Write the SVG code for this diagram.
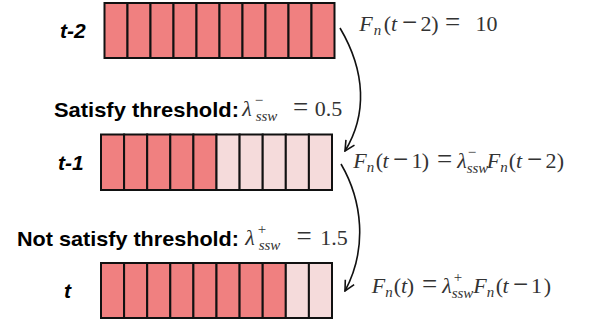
<svg xmlns="http://www.w3.org/2000/svg" width="596" height="326" viewBox="0 0 596 326">
<style>
.cell{stroke:#111;stroke-width:2}
.d{fill:#F08080}
.l{fill:#F5DBDB}
.lab{font-family:"Liberation Sans",Arial,sans-serif;font-weight:bold;font-style:italic;font-size:21px;fill:#000}
.b{font-family:"Liberation Sans",Arial,sans-serif;font-weight:bold;font-size:20.5px;fill:#000}
.m{font-family:"Liberation Serif","Times New Roman",serif;font-size:22px;fill:#333}
.i{font-style:italic}
.s{font-size:15px}
.op{font-size:27px}
.conn{fill:none;stroke:#111;stroke-width:1.6}
</style>
<defs>
<marker id="ah" viewBox="0 0 12 12" refX="11" refY="6" markerWidth="12" markerHeight="12" markerUnits="userSpaceOnUse" orient="auto">
<path d="M1 1 L11 6 L1 11" fill="none" stroke="#111" stroke-width="1.6"/>
</marker>
</defs>

<g id="row-t2">
<text class="lab" x="60" y="38">t-2</text>
<g class="cell d">
<rect x="104.5" y="3" width="23" height="55"/><rect x="127.5" y="3" width="23" height="55"/><rect x="150.5" y="3" width="23" height="55"/><rect x="173.5" y="3" width="23" height="55"/><rect x="196.5" y="3" width="23" height="55"/><rect x="219.5" y="3" width="23" height="55"/><rect x="242.5" y="3" width="23" height="55"/><rect x="265.5" y="3" width="23" height="55"/><rect x="288.5" y="3" width="23" height="55"/><rect x="311.5" y="3" width="23" height="55"/>
</g>
<text class="m" y="31" text-anchor="middle"><tspan x="366" class="i">F</tspan><tspan x="377.5" y="35" class="i s">n</tspan><tspan x="387.5" y="31">(</tspan><tspan x="394" class="i">t</tspan><tspan x="409.5" class="op">−</tspan><tspan x="426">2</tspan><tspan x="435">)</tspan><tspan x="452.5" class="op">=</tspan><tspan x="486.5">10</tspan></text>
</g>

<g id="step-satisfy">
<text class="b" x="54" y="117" textLength="185" lengthAdjust="spacingAndGlyphs">Satisfy threshold:</text>
<text class="m" y="116" text-anchor="middle"><tspan x="247" class="i">λ</tspan><tspan x="259" y="105" class="s">−</tspan><tspan x="266.5" y="121" class="i s">ssw</tspan><tspan x="300.5" y="116" class="op">=</tspan><tspan x="328.5">0.5</tspan></text>
</g>

<g id="row-t1">
<text class="lab" x="58" y="170">t-1</text>
<g class="cell">
<rect class="d" x="101" y="134.5" width="23.1" height="55.5"/><rect class="d" x="124.1" y="134.5" width="23.1" height="55.5"/><rect class="d" x="147.2" y="134.5" width="23.1" height="55.5"/><rect class="d" x="170.3" y="134.5" width="23.1" height="55.5"/><rect class="d" x="193.4" y="134.5" width="23.1" height="55.5"/><rect class="l" x="216.5" y="134.5" width="23.1" height="55.5"/><rect class="l" x="239.6" y="134.5" width="23.1" height="55.5"/><rect class="l" x="262.7" y="134.5" width="23.1" height="55.5"/><rect class="l" x="285.8" y="134.5" width="23.1" height="55.5"/><rect class="l" x="308.9" y="134.5" width="23.1" height="55.5"/>
</g>
<text class="m" y="168" text-anchor="middle"><tspan x="360" class="i">F</tspan><tspan x="370.5" y="172" class="i s">n</tspan><tspan x="379.5" y="168">(</tspan><tspan x="385.5" class="i">t</tspan><tspan x="400.5" class="op">−</tspan><tspan x="417">1</tspan><tspan x="425.5">)</tspan><tspan x="444.5" class="op">=</tspan><tspan x="462" class="i">λ</tspan><tspan x="472" y="157" class="s">−</tspan><tspan x="477.5" y="173" class="i s">ssw</tspan><tspan x="493.5" y="168" class="i">F</tspan><tspan x="504" y="172" class="i s">n</tspan><tspan x="512.5" y="168">(</tspan><tspan x="519" class="i">t</tspan><tspan x="534.5" class="op">−</tspan><tspan x="551">2</tspan><tspan x="560.5">)</tspan></text>
</g>

<g id="step-not-satisfy">
<text class="b" x="17" y="246" textLength="222" lengthAdjust="spacingAndGlyphs">Not satisfy threshold:</text>
<text class="m" y="245" text-anchor="middle"><tspan x="250" class="i">λ</tspan><tspan x="262" y="234" class="s">+</tspan><tspan x="269.5" y="250" class="i s">ssw</tspan><tspan x="304" y="245" class="op">=</tspan><tspan x="334">1.5</tspan></text>
</g>

<g id="row-t">
<text class="lab" x="64" y="298">t</text>
<g class="cell">
<rect class="d" x="101" y="263" width="23.1" height="55"/><rect class="d" x="124.1" y="263" width="23.1" height="55"/><rect class="d" x="147.2" y="263" width="23.1" height="55"/><rect class="d" x="170.3" y="263" width="23.1" height="55"/><rect class="d" x="193.4" y="263" width="23.1" height="55"/><rect class="d" x="216.5" y="263" width="23.1" height="55"/><rect class="d" x="239.6" y="263" width="23.1" height="55"/><rect class="d" x="262.7" y="263" width="23.1" height="55"/><rect class="l" x="285.8" y="263" width="23.1" height="55"/><rect class="l" x="308.9" y="263" width="23.1" height="55"/>
</g>
<text class="m" y="293" text-anchor="middle"><tspan x="378.5" class="i">F</tspan><tspan x="389" y="297" class="i s">n</tspan><tspan x="397.5" y="293">(</tspan><tspan x="404" class="i">t</tspan><tspan x="410.5">)</tspan><tspan x="429.5" class="op">=</tspan><tspan x="447" class="i">λ</tspan><tspan x="458" y="282" class="s">+</tspan><tspan x="462.5" y="298" class="i s">ssw</tspan><tspan x="480" y="293" class="i">F</tspan><tspan x="490.5" y="297" class="i s">n</tspan><tspan x="499.5" y="293">(</tspan><tspan x="505.5" class="i">t</tspan><tspan x="520.5" class="op">−</tspan><tspan x="536.5">1</tspan><tspan x="547.5">)</tspan></text>
</g>

<g id="connectors">
<path class="conn" d="M340 28 C366 72 367 115 345 151" marker-end="url(#ah)"/>
<path class="conn" d="M341 164 C362 200 368 248 345 291" marker-end="url(#ah)"/>
</g>
</svg>
